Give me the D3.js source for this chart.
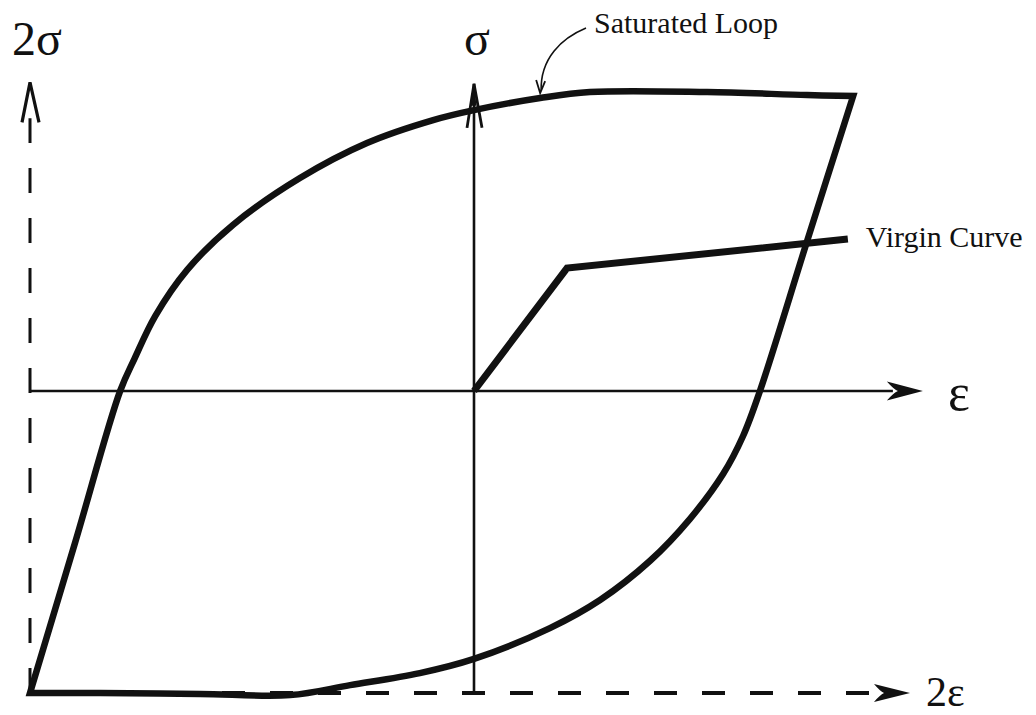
<!DOCTYPE html>
<html>
<head>
<meta charset="utf-8">
<script src="https://cdn.jsdelivr.net/npm/d3@7"></script>
<style>
  html, body { margin: 0; padding: 0; background: #fff; }
  svg { display: block; }
  text { font-family: "Liberation Serif", "DejaVu Serif", serif; fill: #111; }
</style>
</head>
<body>
<svg id="chart" width="1036" height="715"></svg>
<script>
// Saturated hysteresis loop, upper branch (loading), in units of the loop amplitude
const upperBranchStrain = [-1, -0.898, -0.797, -0.764, -0.718, -0.646, -0.543, -0.392, -0.241, -0.092, 0, 0.149, 0.261, 0.525, 0.750, 0.854];
const upperBranchStress = [-1, -0.5, 0, 0.109, 0.248, 0.401, 0.550, 0.705, 0.821, 0.897, 0.930, 0.970, 0.990, 0.990, 0.980, 0.977];

// Lower branch (unloading), from the top-right tip back toward the bottom-left corner
const lowerBranchStrain = [0.854, 0.751, 0.644, 0.606, 0.561, 0.486, 0.396, 0.284, 0.171, 0, -0.122, -0.279, -0.414, -0.617, -0.842];
const lowerBranchStress = [0.977, 0.5, 0, -0.149, -0.275, -0.424, -0.563, -0.692, -0.785, -0.887, -0.934, -0.974, -1.007, -1.003, -1.0];

// Virgin (first loading) curve: elastic line then linear hardening
const virginStrain = [0, 0.2095, 0.842];
const virginStress = [0, 0.407, 0.503];

// Axis extents (tip positions of the arrows)
const sigmaAxis = { from: -1, to: 1.017 };
const epsAxis = { from: -1, to: 1.011 };
const twoSigmaAxis = { eps: -1, from: -1, to: 1.022 };
const twoEpsAxis = { sigma: -1, from: -1, to: 0.982 };

const axisLabels = { sigma: "σ", eps: "ε", twoSigma: "2σ", twoEps: "2ε" };
const annotations = { loop: "Saturated Loop", virgin: "Virgin Curve" };

const svg = d3.select("#chart");
const x = d3.scaleLinear().domain([-1, 1]).range([30, 918]);
const y = d3.scaleLinear().domain([-1, 1]).range([693, 89]);

const zip = (a, b) => a.map((v, i) => [v, b[i]]);
const upper = zip(upperBranchStrain, upperBranchStress);
const lower = zip(lowerBranchStrain, lowerBranchStress);
const virgin = zip(virginStrain, virginStress);

const smooth = d3.line().x(d => x(d[0])).y(d => y(d[1])).curve(d3.curveCatmullRom.alpha(0.5));
const straight = d3.line().x(d => x(d[0])).y(d => y(d[1]));

const ink = "#111";

// ---- dashed 2σ / 2ε reference axes ----
svg.append("line")
  .attr("x1", x(twoSigmaAxis.eps)).attr("x2", x(twoSigmaAxis.eps))
  .attr("y1", y(twoSigmaAxis.from)).attr("y2", y(twoSigmaAxis.to) + 36)
  .attr("stroke", ink).attr("stroke-width", 3)
  .attr("stroke-dasharray", "25,25");
// open chevron arrow on the 2σ axis
{
  const tx = x(twoSigmaAxis.eps), ty = y(twoSigmaAxis.to);
  svg.append("path")
    .attr("d", `M${tx - 8},${ty + 40} L${tx},${ty} L${tx + 9},${ty + 40}`)
    .attr("fill", "none").attr("stroke", ink).attr("stroke-width", 3.2)
    .attr("stroke-linejoin", "miter");
}

svg.append("line")
  .attr("x1", x(twoEpsAxis.from)).attr("x2", x(twoEpsAxis.to) - 34)
  .attr("y1", y(twoEpsAxis.sigma)).attr("y2", y(twoEpsAxis.sigma))
  .attr("stroke", ink).attr("stroke-width", 4)
  .attr("stroke-dasharray", "23,25");

// swept-back filled arrowhead pointing right
function rightArrow(tipX, tipY, len, half, notch) {
  return `M${tipX},${tipY} L${tipX - len},${tipY - half} Q${tipX - len + notch * 0.6},${tipY - half * 0.2} ${tipX - len + notch},${tipY} Q${tipX - len + notch * 0.6},${tipY + half * 0.2} ${tipX - len},${tipY + half} Z`;
}
svg.append("path")
  .attr("d", rightArrow(x(twoEpsAxis.to), y(twoEpsAxis.sigma), 36, 9, 10))
  .attr("fill", ink);

// ---- σ and ε axes ----
svg.append("line")
  .attr("x1", x(0)).attr("x2", x(0))
  .attr("y1", y(sigmaAxis.from)).attr("y2", y(sigmaAxis.to))
  .attr("stroke", ink).attr("stroke-width", 2.6);
{
  const tx = x(0), ty = y(sigmaAxis.to);
  svg.append("path")
    .attr("d", `M${tx - 7},${ty + 44} L${tx},${ty} L${tx + 8},${ty + 44}`)
    .attr("fill", "none").attr("stroke", ink).attr("stroke-width", 2.8);
  svg.append("path")
    .attr("d", `M${tx - 2.5},${ty + 22} L${tx},${ty} L${tx + 2.5},${ty + 22} Z`)
    .attr("fill", ink);
}

svg.append("line")
  .attr("x1", x(epsAxis.from)).attr("x2", x(epsAxis.to) - 30)
  .attr("y1", y(0)).attr("y2", y(0))
  .attr("stroke", ink).attr("stroke-width", 2.6);
svg.append("path")
  .attr("d", rightArrow(x(epsAxis.to), y(0), 36, 9.5, 11))
  .attr("fill", ink);

// ---- saturated loop: both branches joined into one closed path ----
const upperPath = smooth(upper);
const lowerPath = smooth(lower).replace(/^M[^A-Za-z]*/, "");
svg.append("path")
  .attr("d", upperPath + lowerPath + "Z")
  .attr("fill", "none")
  .attr("stroke", ink)
  .attr("stroke-width", 6.5)
  .attr("stroke-linejoin", "miter")
  .attr("stroke-miterlimit", 10);

// ---- virgin curve ----
svg.append("path")
  .attr("d", straight(virgin))
  .attr("fill", "none")
  .attr("stroke", ink)
  .attr("stroke-width", 7)
  .attr("stroke-linejoin", "miter")
  .attr("stroke-linecap", "butt");

// ---- text labels ----
svg.append("text").attr("x", 12).attr("y", 55)
  .attr("font-size", 48).text(axisLabels.twoSigma);
svg.append("text").attr("x", x(0) + 3).attr("y", 55)
  .attr("text-anchor", "middle").attr("font-size", 48).text(axisLabels.sigma);
svg.append("text").attr("x", x(epsAxis.to) + 25).attr("y", y(0) + 19)
  .attr("font-size", 52).text(axisLabels.eps);
svg.append("text").attr("x", x(twoEpsAxis.to) + 16).attr("y", y(twoEpsAxis.sigma) + 13)
  .attr("font-size", 42).text(axisLabels.twoEps);

svg.append("text").attr("x", 594).attr("y", 33)
  .attr("font-size", 30).text(annotations.loop);
svg.append("text").attr("x", x(virginStrain[2]) + 18).attr("y", y(virginStress[2]) + 8)
  .attr("font-size", 30).text(annotations.virgin);

// curved pointer from the loop label down to the upper branch
{
  const tip = [x(0.149), y(0.970) - 5];
  svg.append("path")
    .attr("d", `M586,28 C562,38 540,58 ${tip[0] + 1},${tip[1] - 2}`)
    .attr("fill", "none").attr("stroke", ink).attr("stroke-width", 1.6);
  svg.append("path")
    .attr("d", `M${tip[0] - 4},${tip[1] - 13} L${tip[0]},${tip[1]} L${tip[0] + 5},${tip[1] - 12}`)
    .attr("fill", "none").attr("stroke", ink).attr("stroke-width", 1.8);
}
</script>
</body>
</html>
